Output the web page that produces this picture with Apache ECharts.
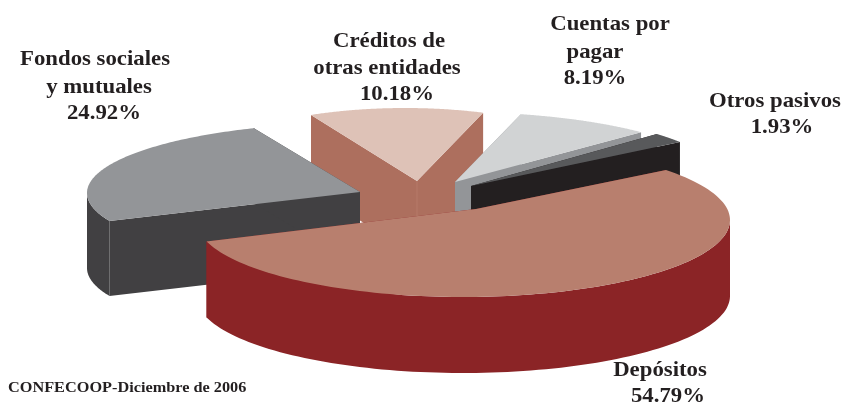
<!DOCTYPE html>
<html><head><meta charset="utf-8">
<style>html,body{margin:0;padding:0;background:#fff}#c{width:841px;height:403px}</style>
<script src="https://cdn.jsdelivr.net/npm/echarts@6/dist/echarts.min.js"></script>
</head><body><div id="c"></div>
<script>
const categories = ["Créditos de otras entidades","Cuentas por pagar","Otros pasivos","Fondos sociales y mutuales","Depósitos"];
const values = [10.18, 8.19, 1.93, 24.92, 54.79];
const labelLines = [["Créditos de","otras entidades"],["Cuentas por","pagar"],["Otros pasivos"],["Fondos sociales","y mutuales"],["Depósitos"]];
const source = "CONFECOOP-Diciembre de 2006";

// drawing layout: exploded, tilted pie (draw order back to front)
const geometry = [
  {ax:417,ay:181,cx:405,cy:180,rx:220,ry:72,start:115.3,stretch:1.258,depth:75},
  {ax:455,ay:182,cx:455,cy:182,rx:265,ry:70,start:75.6,stretch:1.024,depth:75},
  {ax:471,ay:186,cx:471,cy:186,rx:258,ry:75,start:43.9,stretch:1.15,depth:75},
  {ax:360,ay:192,cx:360,cy:193,rx:273,ry:70.4,start:203.4,stretch:1.009,depth:75},
  {ax:476,ay:209,cx:463,cy:220,rx:267,ry:77,start:40.5,stretch:1.036,depth:76}
];
const palette = [
  {top:"#DEC2B7",cut:"#AD6F5E",wall:"#AD6F5E",apexEdge:"#B67A69"},
  {top:"#D1D3D4",cut:"#939598",wall:"#939598"},
  {top:"#58595B",cut:"#231F20",wall:"#231F20"},
  {top:"#939598",cut:"#414042",wall:"#414042",rimEdge:"#7A7B7D"},
  {top:"#B87F6E",cut:"#8B2426",wall:"#8B2426"}
];
const labelPlace = [
  {lines:[[389,42],[387,69]],pct:[397,95]},
  {lines:[[610,25],[595,53]],pct:[595,79]},
  {lines:[[775,102]],pct:[782,128]},
  {lines:[[95,60],[99,88]],pct:[104,114]},
  {lines:[[660,371]],pct:[668,397]}
];
const FONT = '"Liberation Serif", serif';
const INK = "#231F20";
const WIDEN = 1.085;

function rim(g, deg){
  const t = deg*Math.PI/180;
  return [g.cx+g.rx*Math.cos(t), g.cy-g.ry*Math.sin(t)];
}
function renderItem(params, api){
  const i = params.dataIndex, g = geometry[i], c = palette[i];
  const sweep = api.value(1)*3.6*g.stretch, a0 = g.start, a1 = g.start-sweep;
  const arc = [];
  for(let k=0;k<=120;k++){ arc.push(a0+(a1-a0)*k/120); }
  const top = [[g.ax,g.ay]].concat(arc.map(a=>rim(g,a)));
  const down = p => [p[0],p[1]+g.depth];
  const first = rim(g,a0), last = rim(g,a1), apex=[g.ax,g.ay];
  const poly = (pts,fill) => ({type:'polygon',shape:{points:pts},style:{fill:fill},silent:true});
  const edge = (p,col) => ({type:'line',shape:{x1:p[0],y1:p[1],x2:p[0],y2:p[1]+g.depth},style:{stroke:col,lineWidth:1},silent:true});
  const kids = [
    poly([apex,first,down(first),down(apex)],c.cut),
    poly([apex,last,down(last),down(apex)],c.cut)
  ];
  if(c.apexEdge){ kids.push(edge(apex,c.apexEdge)); }
  const front = arc.filter(a=>Math.sin(a*Math.PI/180)<=0).map(a=>rim(g,a));
  if(front.length>1){
    kids.push(poly(front.concat(front.slice().reverse().map(down)),c.wall));
  }
  if(c.rimEdge){ kids.push(edge(last,c.rimEdge)); }
  kids.push(poly(top,c.top));
  const place = labelPlace[i];
  const txt = (s,p) => ({type:'text',x:p[0],y:p[1],scaleX:WIDEN,silent:true,style:{text:s,fill:INK,font:'bold 21px '+FONT,align:'center',verticalAlign:'middle'}});
  labelLines[i].forEach((s,n)=>kids.push(txt(s,place.lines[n])));
  kids.push(txt(api.value(1).toFixed(2)+"%",place.pct));
  return {type:'group',children:kids};
}
const chart = echarts.init(document.getElementById('c'),null,{renderer:'canvas'});
chart.setOption({
  animation:false,
  backgroundColor:'#fff',
  graphic:[{type:'text',x:8,y:388,scaleX:1.05,silent:true,style:{text:source,fill:INK,font:'bold 15.5px '+FONT,align:'left',verticalAlign:'middle'}}],
  series:[{type:'custom',coordinateSystem:'none',renderItem:renderItem,
    data:categories.map((n,i)=>({name:n,value:[i,values[i]]}))}]
});
</script></body></html>
